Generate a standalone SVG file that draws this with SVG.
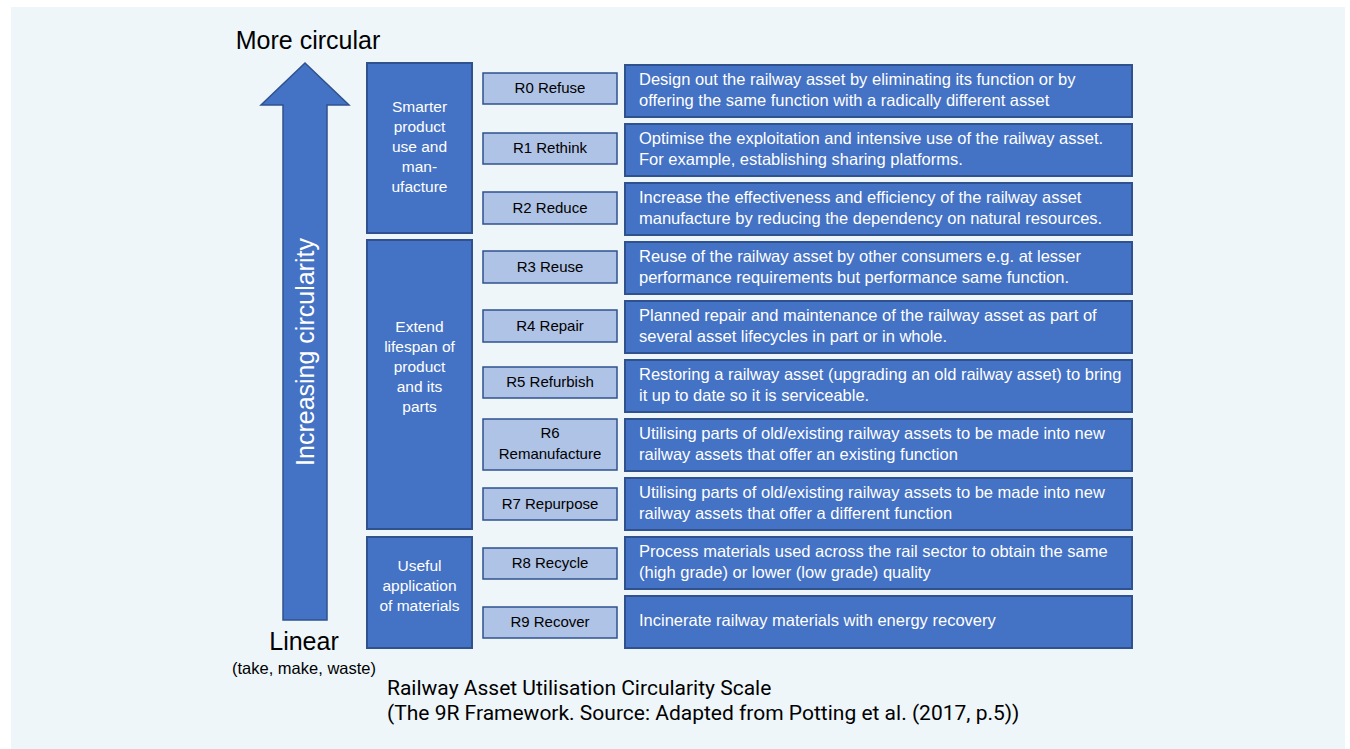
<svg xmlns="http://www.w3.org/2000/svg" width="1350" height="749" viewBox="0 0 1350 749">
<style>
.cat{fill:#4472C4;stroke:#2F528F;stroke-width:2}
.lab{fill:#AFC3E6;stroke:#2F528F;stroke-width:1.5}
.desc{fill:#4472C4;stroke:#2F528F;stroke-width:2}
.wt{fill:#FFFFFF;font-family:"Liberation Sans",Arial,sans-serif;font-size:16.5px}
.ct{fill:#FFFFFF;font-family:"Liberation Sans",Arial,sans-serif;font-size:15.5px;text-anchor:middle}
.lt{fill:#000000;font-family:"Liberation Sans",Arial,sans-serif;font-size:15px;text-anchor:middle}
.big{fill:#000000;font-family:"Liberation Sans",Arial,sans-serif;font-size:25px}
.cap{fill:#000000;font-family:Roboto,"Liberation Sans",sans-serif;font-size:21px}
</style>
<rect x="0" y="0" width="1350" height="749" fill="#FFFFFF"/>
<rect x="11" y="7" width="1334" height="742" fill="#EEF6FA"/>
<g id="axis">
<polygon points="305,63 349,105 327,105 327,620 283,620 283,105 261,105" fill="#4472C4" stroke="#2F528F" stroke-width="1.5"/>
<text x="305" y="352" transform="rotate(-90 305 352)" text-anchor="middle" dominant-baseline="central" fill="#FFFFFF" font-family="'Liberation Sans',Arial,sans-serif" font-size="25px">Increasing circularity</text>
<text x="308" y="49" class="big" text-anchor="middle">More circular</text>
<text x="304" y="650" class="big" text-anchor="middle">Linear</text>
<text x="304" y="674" fill="#000" font-family="'Liberation Sans',Arial,sans-serif" font-size="16.5px" text-anchor="middle">(take, make, waste)</text>
</g>
<g id="cat1"><rect class="cat" x="367" y="63" width="105" height="170"/>
<text class="ct" x="419.5" y="112">Smarter</text><text class="ct" x="419.5" y="132">product</text><text class="ct" x="419.5" y="152">use and</text><text class="ct" x="419.5" y="172">man-</text><text class="ct" x="419.5" y="192">ufacture</text></g>
<g id="cat2"><rect class="cat" x="367" y="240" width="105" height="289"/>
<text class="ct" x="419.5" y="332">Extend</text><text class="ct" x="419.5" y="352">lifespan of</text><text class="ct" x="419.5" y="372">product</text><text class="ct" x="419.5" y="392">and its</text><text class="ct" x="419.5" y="412">parts</text></g>
<g id="cat3"><rect class="cat" x="367" y="537" width="105" height="111"/>
<text class="ct" x="419.5" y="571">Useful</text><text class="ct" x="419.5" y="591">application</text><text class="ct" x="419.5" y="611">of materials</text></g>
<g id="r0"><rect class="lab" x="483" y="73" width="134" height="31"/><text class="lt" x="550" y="93">R0 Refuse</text>
<rect class="desc" x="625" y="65" width="507" height="52"/><text class="wt" x="639" y="85">Design out the railway asset by eliminating its function or by</text><text class="wt" x="639" y="106">offering the same function with a radically different asset</text></g>
<g id="r1"><rect class="lab" x="483" y="133" width="134" height="31"/><text class="lt" x="550" y="153">R1 Rethink</text>
<rect class="desc" x="625" y="124" width="507" height="52"/><text class="wt" x="639" y="144">Optimise the exploitation and intensive use of the railway asset.</text><text class="wt" x="639" y="165">For example, establishing sharing platforms.</text></g>
<g id="r2"><rect class="lab" x="483" y="192" width="134" height="32"/><text class="lt" x="550" y="213">R2 Reduce</text>
<rect class="desc" x="625" y="183" width="507" height="52"/><text class="wt" x="639" y="203">Increase the effectiveness and efficiency of the railway asset</text><text class="wt" x="639" y="224">manufacture by reducing the dependency on natural resources.</text></g>
<g id="r3"><rect class="lab" x="483" y="251" width="134" height="32"/><text class="lt" x="550" y="272">R3 Reuse</text>
<rect class="desc" x="625" y="242" width="507" height="52"/><text class="wt" x="639" y="262">Reuse of the railway asset by other consumers e.g. at lesser</text><text class="wt" x="639" y="283">performance requirements but performance same function.</text></g>
<g id="r4"><rect class="lab" x="483" y="310" width="134" height="32"/><text class="lt" x="550" y="331">R4 Repair</text>
<rect class="desc" x="625" y="301" width="507" height="52"/><text class="wt" x="639" y="321">Planned repair and maintenance of the railway asset as part of</text><text class="wt" x="639" y="342">several asset lifecycles in part or in whole.</text></g>
<g id="r5"><rect class="lab" x="483" y="367" width="134" height="31"/><text class="lt" x="550" y="387">R5 Refurbish</text>
<rect class="desc" x="625" y="360" width="507" height="52"/><text class="wt" x="639" y="380">Restoring a railway asset (upgrading an old railway asset) to bring</text><text class="wt" x="639" y="401">it up to date so it is serviceable.</text></g>
<g id="r6"><rect class="lab" x="483" y="419" width="134" height="51"/><text class="lt" x="550" y="438">R6</text><text class="lt" x="550" y="459">Remanufacture</text>
<rect class="desc" x="625" y="419" width="507" height="52"/><text class="wt" x="639" y="439">Utilising parts of old/existing railway assets to be made into new</text><text class="wt" x="639" y="460">railway assets that offer an existing function</text></g>
<g id="r7"><rect class="lab" x="483" y="488" width="134" height="32"/><text class="lt" x="550" y="509">R7 Repurpose</text>
<rect class="desc" x="625" y="478" width="507" height="52"/><text class="wt" x="639" y="498">Utilising parts of old/existing railway assets to be made into new</text><text class="wt" x="639" y="519">railway assets that offer a different function</text></g>
<g id="r8"><rect class="lab" x="483" y="548" width="134" height="31"/><text class="lt" x="550" y="568">R8 Recycle</text>
<rect class="desc" x="625" y="537" width="507" height="52"/><text class="wt" x="639" y="557">Process materials used across the rail sector to obtain the same</text><text class="wt" x="639" y="578">(high grade) or lower (low grade) quality</text></g>
<g id="r9"><rect class="lab" x="483" y="607" width="134" height="31"/><text class="lt" x="550" y="627">R9 Recover</text>
<rect class="desc" x="625" y="596" width="507" height="52"/><text class="wt" x="639" y="626">Incinerate railway materials with energy recovery</text></g>
<g id="caption">
<text class="cap" x="387" y="695">Railway Asset Utilisation Circularity Scale</text>
<text class="cap" x="387" y="720">(The 9R Framework. Source: Adapted from Potting et al. (2017, p.5))</text>
</g>
<g id="connectors"></g>
</svg>
